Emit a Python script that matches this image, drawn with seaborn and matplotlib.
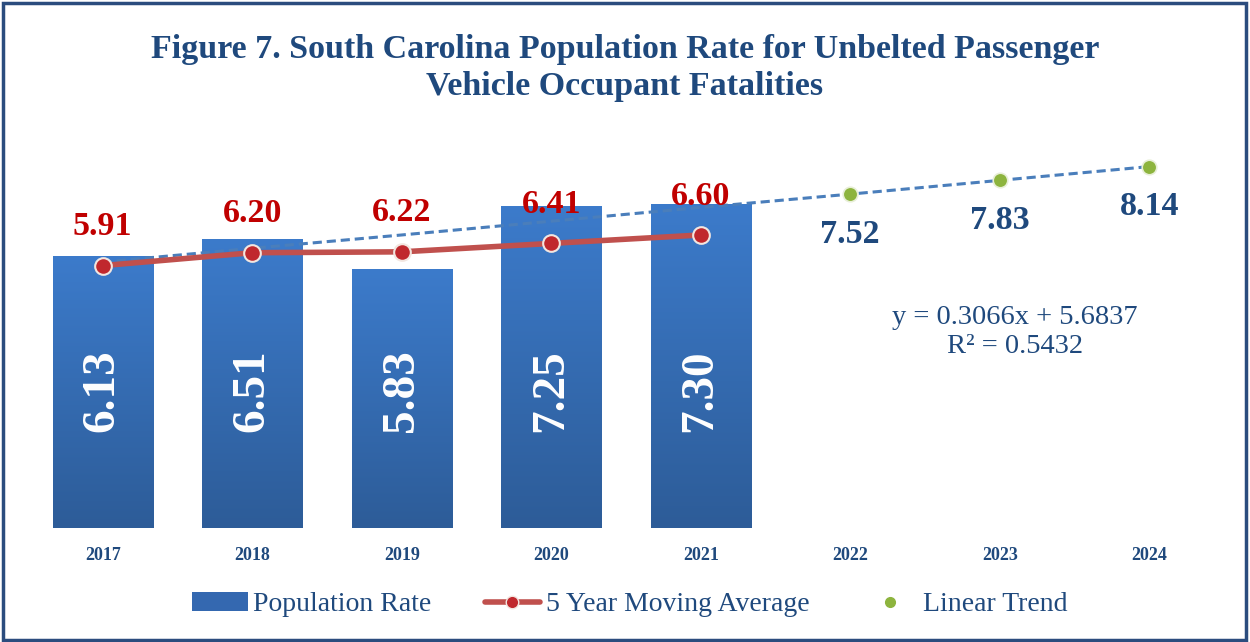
import numpy as np
import matplotlib.pyplot as plt
import seaborn as sns
from matplotlib.patches import Rectangle, Patch
from matplotlib.lines import Line2D
import matplotlib.colors as mcolors

years = ['2017', '2018', '2019', '2020', '2021', '2022', '2023', '2024']
pop_rate = [6.13, 6.51, 5.83, 7.25, 7.30]
moving_avg = [5.91, 6.20, 6.22, 6.41, 6.60]
trend_vals = [5.99, 6.30, 6.60, 6.91, 7.22, 7.52, 7.83, 8.14]
trend_years = ['2022', '2023', '2024']
trend_pts = [7.52, 7.83, 8.14]
eq_text = 'y = 0.3066x + 5.6837\nR² = 0.5432'

navy = '#1F497D'
red_txt = '#C00000'

sns.set_theme(style='white')
plt.rcParams['font.family'] = ['Liberation Serif', 'DejaVu Serif']

fig = plt.figure(figsize=(12.5, 6.42), dpi=100)
ax = fig.add_axes([0.0224, 0.1776, 0.9568, 0.6044])

sns.barplot(x=years[:len(pop_rate)], y=pop_rate, order=years, color='#3A75C4',
            width=0.67, saturation=1, ax=ax, zorder=2)

# gradient fill on bars
cmap = mcolors.LinearSegmentedColormap.from_list('b', ['#2D5C98', '#3C7BCB'])
grad = np.linspace(0, 1, 256).reshape(-1, 1)
for p in list(ax.patches):
    x0, y0 = p.get_x(), p.get_y()
    w, h = p.get_width(), p.get_height()
    if h <= 0:
        continue
    im = ax.imshow(grad, cmap=cmap, origin='lower', aspect='auto',
                   extent=[x0, x0 + w, y0, y0 + h], zorder=2.1)
    im.set_clip_path(p)

pos = np.arange(len(years))

# linear trend
ax.plot(pos, trend_vals, ls=(0, (3, 1.6)), color='#4A7EBB', lw=2.2, zorder=3)
tpos = [years.index(y) for y in trend_years]
ax.scatter(tpos, trend_pts, s=110, color='#8DB43E', edgecolor='#E8EFD8',
           linewidth=1.2, zorder=4)

# moving average
ax.plot(pos[:len(moving_avg)], moving_avg, color='#C0504D', lw=4, marker='o',
        markersize=12, markerfacecolor='#C0282D', markeredgecolor='#F2E6E0',
        markeredgewidth=1.5, zorder=5)

# labels
for i, v in enumerate(pop_rate):
    ax.text(i, 3.1, f'{v:.2f}', rotation=90, ha='center', va='center',
            color='white', fontsize=34, fontweight='bold', zorder=6)
for i, v in enumerate(moving_avg):
    ax.annotate(f'{v:.2f}', (i, v), xytext=(0, 28), textcoords='offset points',
                ha='center', va='center', color=red_txt, fontsize=24.5,
                fontweight='bold', zorder=6)
for x, v in zip(tpos, trend_pts):
    ax.annotate(f'{v:.2f}', (x, v), xytext=(0, -29), textcoords='offset points',
                ha='center', va='center', color=navy, fontsize=24.5,
                fontweight='bold', zorder=6)

ax.text(6.1, 4.42, eq_text, ha='center', va='center', color=navy,
        fontsize=20.5, linespacing=1.2)

ax.set_xlim(-0.5, 7.5)
ax.set_ylim(0, 8.74)
ax.set_yticks([])
ax.set_xlabel('')
ax.set_ylabel('')
ax.tick_params(axis='x', length=0, pad=14)
for lab in ax.get_xticklabels():
    lab.set_fontsize(13)
    lab.set_fontweight('bold')
    lab.set_color(navy)
for s in ax.spines.values():
    s.set_visible(False)

fig.suptitle('Figure 7. South Carolina Population Rate for Unbelted Passenger\n'
             'Vehicle Occupant Fatalities', y=0.947, fontsize=24.5,
             fontweight='bold', color=navy, linespacing=1.25)

handles = [
    Patch(facecolor='#3468B0', edgecolor='none'),
    Line2D([0], [0], color='#C0504D', lw=4, marker='o', markersize=9,
           markerfacecolor='#C0282D', markeredgecolor='#F2E6E0'),
    Line2D([0], [0], ls='none', marker='o', markersize=7, color='#8DB43E'),
]
leg = fig.legend(handles, ['Population Rate', '5 Year Moving Average', 'Linear Trend'],
                 loc='center', bbox_to_anchor=(0.504, 0.058), ncol=3, frameon=False,
                 fontsize=20, labelcolor=navy, handlelength=2.0, handletextpad=0.2,
                 columnspacing=1.9)

fig.patches.append(Rectangle((0.002, 0.003), 0.995, 0.992, transform=fig.transFigure,
                             fill=False, edgecolor='#2B4C7E', lw=2.5, zorder=10))

fig.savefig('out.png', dpi=100)
